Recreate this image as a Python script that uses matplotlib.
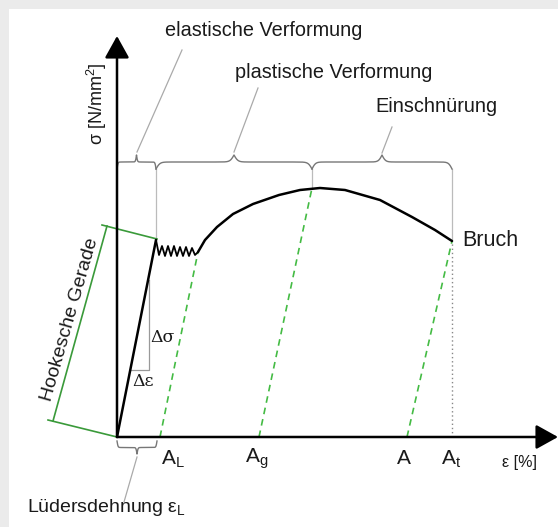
import numpy as np
import matplotlib
matplotlib.use("Agg")
import matplotlib.pyplot as plt
from matplotlib.patches import Rectangle

plt.rcParams['font.family'] = ['Liberation Sans', 'DejaVu Sans']
plt.rcParams['mathtext.fontset'] = 'custom'
plt.rcParams['mathtext.rm'] = 'Liberation Sans'
plt.rcParams['mathtext.it'] = 'Liberation Sans'

# ---------------- data (schematic units) ----------------
elastic_x = [0, 39]
elastic_y = [0, 197]

zig_x = [39, 42, 45, 48, 51, 54, 57, 60, 63, 66, 69, 72, 75, 78, 81]
zig_y = [197, 182, 191, 181, 191, 181, 191, 181, 190, 181, 190, 181, 189, 182, 185]

curve_x = [81, 88, 100, 116, 136, 162, 183, 203, 228, 263, 295, 318, 335]
curve_y = [185, 197, 210, 223, 233, 242, 247, 249, 247, 237, 220, 207, 196]

# unloading lines (green dashed): strain at axis -> point on curve
unload_x0 = [43, 142, 290]
unload_x1 = [81, 195, 335]
unload_y1 = [185, 249, 196]

tick_labels = ['$\\mathregular{A_L}$', '$\\mathregular{A_g}$', 'A', '$\\mathregular{A_t}$']
tick_pos = [56, 140, 287, 334]

brace_segments = [(0, 39), (39, 195), (195, 335)]
brace_labels = ['elastische Verformung', 'plastische Verformung', 'Einschnürung']

# ---------------- figure ----------------
fig = plt.figure(figsize=(5.58, 5.27), dpi=100, facecolor='#ebebeb')
ax = fig.add_axes([0, 0, 1, 1])
ax.set_xlim(-117, 441)
ax.set_ylim(-90, 437)
ax.axis('off')
ax.add_patch(Rectangle((-108, -90), 600, 518, facecolor='white', edgecolor='none', zorder=0))

txt = '#1a1a1a'
gray_leader = '#aaaaaa'
gray_brace = '#777777'
green = '#3a9a3a'
green_d = '#44bb44'

# axes arrows
arrow_style = '-|>,head_length=1.35,head_width=0.75'
ax.annotate('', xy=(0, 401), xytext=(0, 0),
            arrowprops=dict(arrowstyle=arrow_style, mutation_scale=10, lw=1.8, color='black',
                            shrinkA=0, shrinkB=0), zorder=5)
ax.annotate('', xy=(441, 0), xytext=(0, 0),
            arrowprops=dict(arrowstyle=arrow_style, mutation_scale=10, lw=1.8, color='black',
                            shrinkA=0, shrinkB=0), zorder=5)

# curve
ax.plot(elastic_x, elastic_y, color='black', lw=1.8, zorder=4, solid_capstyle='round')
ax.plot(zig_x, zig_y, color='black', lw=1.3, zorder=4)
ax.plot(curve_x, curve_y, color='black', lw=1.8, zorder=4, solid_capstyle='round',
        solid_joinstyle='round')

# unloading lines
for x0, x1, y1 in zip(unload_x0, unload_x1, unload_y1):
    ax.plot([x0, x1], [0, y1], color=green_d, lw=1.2, ls=(0, (4, 3)), zorder=3)

# At dotted line
ax.plot([curve_x[-1], curve_x[-1]], [0, curve_y[-1]], color='#888888', lw=1.0, ls=(0, (1, 2)), zorder=3)

# brace helper
def brace(x0, x1, yb, h, color, lw=1.0):
    n = 201
    xs = np.linspace(x0, x1, 2 * n - 1)
    half = xs[:n]
    beta = 40.0 / (half[-1] - half[0])
    yh = 1 / (1 + np.exp(-beta * (half - half[0]))) + 1 / (1 + np.exp(-beta * (half - half[-1])))
    yy = np.concatenate((yh, yh[-2::-1]))
    yy = yb + (yy - 0.5) * h
    ax.plot(xs, yy, color=color, lw=lw, zorder=3)

for (a, b) in brace_segments:
    brace(a, b, 268, 14, gray_brace)
brace(0, 40, -4, -13, gray_brace)

# gray vertical connectors from braces
for (xv, yv) in [(39, 197), (195, 249), (335, 196)]:
    ax.plot([xv, xv], [268, yv], color='#bbbbbb', lw=0.9, zorder=2)

# leader lines
leaders = [((20, 285), (65, 387)), ((117, 285), (141, 349)), ((265, 284), (275, 310)),
           ((20, -20), (7, -65))]
for (p0, p1) in leaders:
    ax.plot([p0[0], p1[0]], [p0[1], p1[1]], color=gray_leader, lw=0.9, zorder=2)

# brace labels
ax.text(147, 407, brace_labels[0], ha='center', va='center', fontsize=14.3, color=txt)
ax.text(217, 365, brace_labels[1], ha='center', va='center', fontsize=14.3, color=txt)
ax.text(319, 330, brace_labels[2], ha='center', va='center', fontsize=14.3, color=txt)

ax.text(345, 196, 'Bruch', ha='left', va='center', fontsize=15.5, color=txt)

# axis labels
ax.text(-20, 333, 'σ [N/mm$^\\mathregular{2}$]', rotation=90, ha='center', va='center',
        fontsize=13, color=txt)
ax.text(402, -25, 'ε [%]', ha='center', va='center', fontsize=11.5, color=txt)

for lab, xp in zip(tick_labels, tick_pos):
    ax.text(xp, -22, lab, ha='center', va='center', fontsize=15, color=txt)

ax.text(-11, -70, 'Lüdersdehnung ε$_\\mathregular{L}$', ha='center', va='center', fontsize=14, color=txt)

# Hooke dimension line
ax.plot([-64, -10], [16, 211], color=green, lw=1.2, zorder=3)
ax.plot([-15, 40], [212, 198], color=green, lw=1.2, zorder=3)
ax.plot([-69, 0], [17, 0], color=green, lw=1.2, zorder=3)
ax.text(-47, 117, 'Hookesche Gerade', rotation=74, ha='center', va='center', fontsize=14,
        color=txt, rotation_mode='anchor')

# slope triangle
ax.plot([14, 32, 32], [67, 67, 157], color='#999999', lw=0.9, zorder=2)
ax.text(46, 100, 'Δσ', ha='center', va='center', fontsize=12.5, color=txt, family='DejaVu Serif')
ax.text(26, 55, 'Δε', ha='center', va='center', fontsize=12.5, color=txt, family='DejaVu Serif')

fig.savefig('out.png', dpi=100, facecolor=fig.get_facecolor())
